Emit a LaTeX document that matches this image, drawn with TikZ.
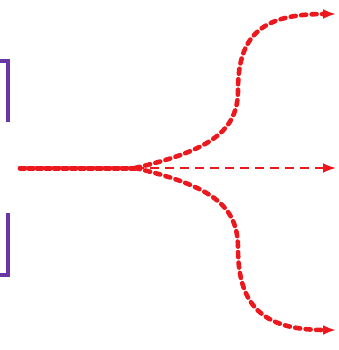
\documentclass[tikz,border=0pt]{standalone}
\usetikzlibrary{arrows.meta}
\definecolor{rayred}{RGB}{235,25,30}
\definecolor{slitpurple}{RGB}{105,55,165}
\tikzset{
  ray/.style={rayred, line width=4.6pt, dash pattern=on 5pt off 5.5pt, line cap=round},
  beam/.style={rayred, line width=5pt, dash pattern=on 5pt off 3.5pt, line cap=round},
  axisray/.style={rayred, line width=2pt, dash pattern=on 9pt off 6pt},
  slit/.style={slitpurple, line width=3.5pt},
}
\begin{document}
\begin{tikzpicture}[>=latex, x=1pt, y=-1pt]
    \useasboundingbox (0,0) rectangle (338,350);
    % Khe hẹp
    \draw[slit] (0,61) -- (8,61) -- (8,122);
    \draw[slit] (8,213) -- (8,275) -- (0,275);

    % Các điểm của tia
    \coordinate (src) at (20,168);
    \coordinate (split) at (135,168);
    \coordinate (up) at (336,14);
    \coordinate (mid) at (336,168);
    \coordinate (down) at (336,330);

    % Chùm tới
    \draw[beam] (src) -- (split);

    % Ba tia tách ra
    \draw[ray, -{Latex[length=13pt, width=10pt]}] (split)
        .. controls (212,150) and (238,130) .. (238,90)
        .. controls (238,35) and (262,14) .. (up);
    \draw[axisray, -{Latex[length=13pt, width=10pt]}] (split) -- (mid);
    \draw[ray, -{Latex[length=13pt, width=10pt]}] (split)
        .. controls (212,186) and (238,206) .. (238,248)
        .. controls (238,305) and (262,330) .. (down);
\end{tikzpicture}
\end{document}
